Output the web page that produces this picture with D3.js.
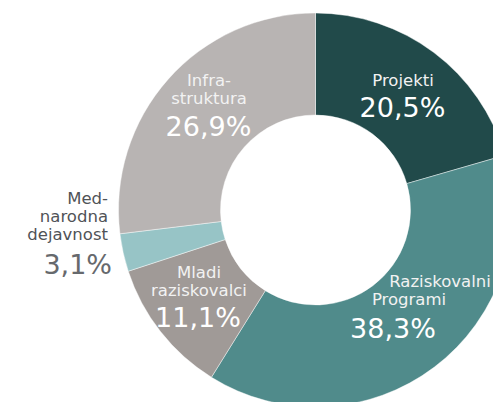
<!DOCTYPE html>
<html>
<head>
<meta charset="utf-8">
<script src="https://cdn.jsdelivr.net/npm/d3@7"></script>
<style>
html,body{margin:0;padding:0;background:#fff;overflow:hidden;}
svg{display:block;}
text{font-family:"DejaVu Sans",sans-serif;}
</style>
</head>
<body>
<svg id="chart" width="493" height="402"></svg>
<script>
const categories = ["Projekti", "Raziskovalni Programi", "Mladi raziskovalci", "Mednarodna dejavnost", "Infrastruktura"];
const values = [20.5, 38.3, 11.1, 3.1, 26.9];
const valueLabels = ["20,5%", "38,3%", "11,1%", "3,1%", "26,9%"];
const labelLines = [["Projekti"], ["Raziskovalni", "Programi"], ["Mladi", "raziskovalci"], ["Med-", "narodna", "dejavnost"], ["Infra-", "struktura"]];
const colors = ["#214a4a", "#508b8b", "#a09a97", "#97c4c6", "#b8b4b3"];

const svg = d3.select("#chart");
const cx = 315.5, cy = 210, R = 197, r = 95;
const g = svg.append("g").attr("transform", `translate(${cx},${cy})`);

const pie = d3.pie().sort(null).value(d => d).startAngle(0).endAngle(2 * Math.PI);
const arcs = pie(values);
const arc = d3.arc().innerRadius(r).outerRadius(R);

g.selectAll("path").data(arcs).join("path")
  .attr("d", arc)
  .attr("fill", (d, i) => colors[i])
  .attr("stroke", "rgba(255,255,255,0.55)")
  .attr("stroke-width", 0.8);

const place = [
  {x: 403, y: 86, anchor: "middle", step: 18, pctY: 117, pctX: 402.5, col: "#f2f2f2", pcol: "#ffffff"},
  {x: [440, 409], y: 287, anchor: "middle", step: 18, pctY: 338, pctX: 393, col: "#f2f2f2", pcol: "#ffffff"},
  {x: 199, y: 278, anchor: "middle", step: 18, pctY: 327, pctX: 198, col: "#f2f2f2", pcol: "#ffffff"},
  {x: 108, y: 204, anchor: "end", step: 18, pctY: 274, pctX: 112, col: "#505357", pcol: "#66696d"},
  {x: 209, y: 86, anchor: "middle", step: 18, pctY: 136, pctX: 208.5, col: "#f2f2f2", pcol: "#ffffff"}
];

const lg = svg.append("g");
labelLines.forEach((lines, i) => {
  const p = place[i];
  lines.forEach((line, j) => {
    const x = Array.isArray(p.x) ? p.x[j] : p.x;
    lg.append("text")
      .attr("x", x).attr("y", p.y + j * p.step)
      .attr("text-anchor", p.anchor)
      .attr("font-size", 16.5)
      .attr("fill", p.col)
      .text(line);
  });
  lg.append("text")
    .attr("x", p.pctX).attr("y", p.pctY)
    .attr("text-anchor", p.anchor)
    .attr("font-size", 27)
    .attr("fill", p.pcol)
    .text(valueLabels[i]);
});
</script>
</body>
</html>
